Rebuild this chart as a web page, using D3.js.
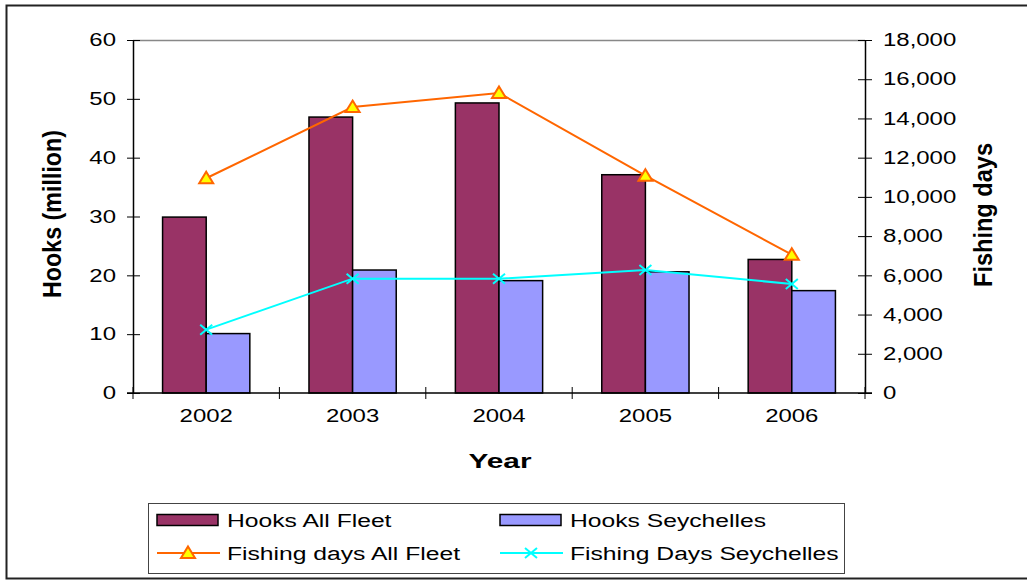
<!DOCTYPE html>
<html>
<head>
<meta charset="utf-8">
<script src="https://cdn.jsdelivr.net/npm/d3@7"></script>
<style>
  html, body { margin: 0; padding: 0; background: #fff; }
  svg { display: block; font-family: "Liberation Sans", Arial, sans-serif; }
</style>
</head>
<body>
<svg id="chart" width="1027" height="581"></svg>
<script>
// Longline fishing effort by year
const years = ["2002", "2003", "2004", "2005", "2006"];
const hooksAllFleet = [29.9, 46.9, 49.3, 37.1, 22.7];        // million hooks
const hooksSeychelles = [10.1, 20.9, 19.1, 20.6, 17.4];      // million hooks
const daysAllFleet = [10950, 14580, 15300, 11080, 7050];     // fishing days
const daysSeychelles = [3230, 5830, 5830, 6270, 5560];       // fishing days
const leftTicks = [0, 10, 20, 30, 40, 50, 60];
const rightTicks = [0, 2000, 4000, 6000, 8000, 10000, 12000, 14000, 16000, 18000];

const colors = {
  hooksAll: "#993366",
  hooksSey: "#9999FF",
  daysAll: "#FF6600",
  daysSey: "#00FFFF"
};

// Widen text horizontally (the chart uses a stretched sans face)
const WIDEN = 1.33;
function widen(sel, k = WIDEN) {
  sel.each(function () {
    const len = this.getComputedTextLength();
    d3.select(this).attr("textLength", len * k).attr("lengthAdjust", "spacingAndGlyphs");
  });
}

const svg = d3.select("#chart");
const plot = { left: 133, right: 865, top: 40, bottom: 393 };

// Outer frame
svg.append("rect")
  .attr("x", 6.5).attr("y", 5.5)
  .attr("width", 1030).attr("height", 573)
  .attr("fill", "none").attr("stroke", "#222").attr("stroke-width", 2);

const x = d3.scaleBand().domain(years).range([plot.left, plot.right]);
const yL = d3.scaleLinear().domain([0, 60]).range([plot.bottom, plot.top]);
const yR = d3.scaleLinear().domain([0, 18000]).range([plot.bottom, plot.top]);
const barW = x.bandwidth() * 0.298;

// Plot area top edge
svg.append("line")
  .attr("x1", plot.left).attr("x2", plot.right)
  .attr("y1", plot.top + 0.5).attr("y2", plot.top + 0.5)
  .attr("stroke", "#888").attr("stroke-width", 1.5);

// Bars
const barG = svg.append("g");
barG.selectAll("rect.all").data(years).join("rect")
  .attr("x", d => x(d) + x.bandwidth() / 2 - barW)
  .attr("y", (d, i) => yL(hooksAllFleet[i]))
  .attr("width", barW)
  .attr("height", (d, i) => yL(0) - yL(hooksAllFleet[i]))
  .attr("fill", colors.hooksAll).attr("stroke", "#000").attr("stroke-width", 1.5);
barG.selectAll("rect.sey").data(years).join("rect")
  .attr("x", d => x(d) + x.bandwidth() / 2)
  .attr("y", (d, i) => yL(hooksSeychelles[i]))
  .attr("width", barW)
  .attr("height", (d, i) => yL(0) - yL(hooksSeychelles[i]))
  .attr("fill", colors.hooksSey).attr("stroke", "#000").attr("stroke-width", 1.5);

// Axes
const tickFont = "18px";
const leftAxis = d3.axisLeft(yL).tickValues(leftTicks).tickSize(0).tickPadding(17);
const gL = svg.append("g").attr("transform", `translate(${plot.left},0)`).call(leftAxis);
const rightAxis = d3.axisRight(yR).tickValues(rightTicks).tickSize(0).tickPadding(18)
  .tickFormat(d3.format(","));
const gR = svg.append("g").attr("transform", `translate(${plot.right},0)`).call(rightAxis);
[gL, gR].forEach(g => {
  g.select(".domain").attr("stroke", "#000").attr("stroke-width", 1.5);
  g.selectAll("text").attr("font-size", tickFont).attr("fill", "#000")
    .attr("font-family", "Liberation Sans, Arial, sans-serif");
  widen(g.selectAll("text"));
});
// cross ticks
gL.selectAll(".tick").append("line").attr("x1", -6).attr("x2", 7).attr("stroke", "#000").attr("stroke-width", 1);
gR.selectAll(".tick").append("line").attr("x1", -7).attr("x2", 7).attr("stroke", "#000").attr("stroke-width", 1);

const gB = svg.append("g").attr("transform", `translate(0,${plot.bottom})`)
  .call(d3.axisBottom(x).tickSize(0).tickPadding(16));
gB.select(".domain").attr("d", `M${plot.left - 6},0H${plot.right + 7}`)
  .attr("stroke", "#000").attr("stroke-width", 1.5);
gB.selectAll("text").attr("font-size", tickFont).attr("fill", "#000")
  .attr("font-family", "Liberation Sans, Arial, sans-serif");
widen(gB.selectAll("text"));
// category separators
const seps = years.map(d => x(d)).concat([plot.right]);
gB.selectAll("line.sep").data(seps).join("line")
  .attr("x1", d => d).attr("x2", d => d)
  .attr("y1", -6).attr("y2", 6).attr("stroke", "#000").attr("stroke-width", 1);

// Lines
const cx = d => x(d) + x.bandwidth() / 2;
const lineAll = d3.line().x((d, i) => cx(years[i])).y(d => yR(d));
svg.append("path").datum(daysAllFleet).attr("d", lineAll)
  .attr("fill", "none").attr("stroke", colors.daysAll).attr("stroke-width", 2);
svg.append("path").datum(daysSeychelles).attr("d", lineAll)
  .attr("fill", "none").attr("stroke", colors.daysSey).attr("stroke-width", 2);

function triangle(g, px, py) {
  g.append("path")
    .attr("d", `M${px},${py - 6.5}L${px + 7},${py + 5}L${px - 7},${py + 5}Z`)
    .attr("fill", "#FFFF00").attr("stroke", colors.daysAll).attr("stroke-width", 2);
}
function cross(g, px, py) {
  g.append("path")
    .attr("d", `M${px - 6},${py - 5}L${px + 6},${py + 5}M${px - 6},${py + 5}L${px + 6},${py - 5}`)
    .attr("stroke", colors.daysSey).attr("stroke-width", 2).attr("fill", "none");
}
const mk = svg.append("g");
daysAllFleet.forEach((v, i) => triangle(mk, cx(years[i]), yR(v)));
daysSeychelles.forEach((v, i) => cross(mk, cx(years[i]), yR(v)));

// Axis titles (vertical ones are widened across the glyph height)
svg.append("text").text("Hooks (million)")
  .attr("transform", "translate(61,214) scale(1.3,1) rotate(-90)")
  .attr("text-anchor", "middle").attr("font-size", "20px").attr("font-weight", "bold")
  .attr("textLength", 168).attr("lengthAdjust", "spacingAndGlyphs");
svg.append("text").text("Fishing days")
  .attr("transform", "translate(992,215) scale(1.3,1) rotate(-90)")
  .attr("text-anchor", "middle").attr("font-size", "20px").attr("font-weight", "bold")
  .attr("textLength", 144).attr("lengthAdjust", "spacingAndGlyphs");
svg.append("text").text("Year")
  .attr("x", 500).attr("y", 468)
  .attr("text-anchor", "middle").attr("font-size", "21px").attr("font-weight", "bold")
  .attr("textLength", 63).attr("lengthAdjust", "spacingAndGlyphs");

// Legend
const lg = svg.append("g");
lg.append("rect").attr("x", 148.5).attr("y", 503.5).attr("width", 696).attr("height", 70)
  .attr("fill", "#fff").attr("stroke", "#444").attr("stroke-width", 1);
const legendItems = [
  { label: "Hooks All Fleet", type: "bar", color: colors.hooksAll, x: 157, y: 520 },
  { label: "Hooks Seychelles", type: "bar", color: colors.hooksSey, x: 500, y: 520 },
  { label: "Fishing days All Fleet", type: "tri", color: colors.daysAll, x: 157, y: 553 },
  { label: "Fishing Days Seychelles", type: "x", color: colors.daysSey, x: 500, y: 553 }
];
legendItems.forEach(it => {
  if (it.type === "bar") {
    lg.append("rect").attr("x", it.x).attr("y", it.y - 5.5).attr("width", 61).attr("height", 11)
      .attr("fill", it.color).attr("stroke", "#000").attr("stroke-width", 1.5);
  } else {
    lg.append("line").attr("x1", it.x).attr("x2", it.x + 63).attr("y1", it.y).attr("y2", it.y)
      .attr("stroke", it.color).attr("stroke-width", 2);
    if (it.type === "tri") triangle(lg, it.x + 31, it.y);
    else cross(lg, it.x + 31, it.y);
  }
  const t = lg.append("text").text(it.label)
    .attr("x", it.x + 70).attr("y", it.y + 6.5)
    .attr("font-size", "18px").attr("fill", "#000");
  widen(t, 1.37);
});
</script>
</body>
</html>
